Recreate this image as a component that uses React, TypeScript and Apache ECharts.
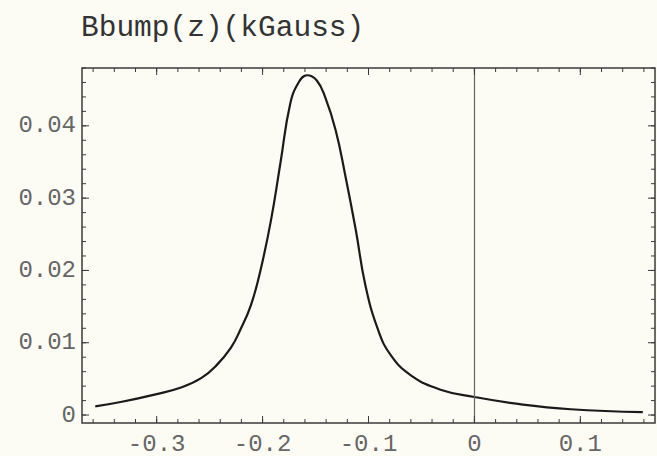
import React, { useEffect, useRef } from "react";
import * as echarts from "echarts";

// Field profile
const zValues = [-0.358, -0.334, -0.3, -0.277, -0.258, -0.244, -0.23, -0.221, -0.211, -0.202, -0.192, -0.183, -0.174, -0.166, -0.158, -0.149, -0.141, -0.131, -0.122, -0.112, -0.103, -0.091, -0.079, -0.06, -0.032, 0, 0.043, 0.091, 0.159];
const bValues = [0.0012, 0.0018, 0.0029, 0.0038, 0.0051, 0.0068, 0.0093, 0.0118, 0.0152, 0.020, 0.027, 0.035, 0.043, 0.046, 0.047, 0.0463, 0.044, 0.0394, 0.0332, 0.0256, 0.018, 0.0118, 0.0083, 0.0055, 0.0035, 0.0025, 0.0015, 0.0008, 0.0004];

const xMajorTicks = [-0.3, -0.2, -0.1, 0, 0.1];
const xTickLabels = ["-0.3", "-0.2", "-0.1", "0", "0.1"];
const yMajorTicks = [0, 0.01, 0.02, 0.03, 0.04];
const yTickLabels = ["0", "0.01", "0.02", "0.03", "0.04"];

const titleText = "Bbump(z)(kGauss)";

const X_MIN = -0.3705;
const X_MAX = 0.1705;
const Y_MIN = -0.0011;
const Y_MAX = 0.048;

const W = 657;
const H = 456;
const GRID = { left: 82, right: 2, top: 68, bottom: 33 };

function minorTicks(lo: number, hi: number, step: number) {
  const out: number[] = [];
  const n0 = Math.ceil(lo / step);
  const n1 = Math.floor(hi / step);
  for (let i = n0; i <= n1; i++) out.push(+(i * step).toFixed(6));
  return out;
}

const FONT = "'Liberation Mono', 'DejaVu Sans Mono', monospace";
const LABEL_COLOR = "#666";
const FRAME_COLOR = "#3a3a3a";
const MAJOR_LEN = 7;
const MINOR_LEN = 4;

function labelFor(values: number[], labels: string[], v: number) {
  let best = 0;
  for (let i = 1; i < values.length; i++) {
    if (Math.abs(values[i] - v) < Math.abs(values[best] - v)) best = i;
  }
  return labels[best];
}

export default function App() {
  const ref = useRef<HTMLDivElement>(null);
  useEffect(() => {
    if (!ref.current) return;
    const chart = echarts.init(ref.current, null, { renderer: "svg" });
    const xMinor = minorTicks(X_MIN, X_MAX, 0.02);
    const yMinor = minorTicks(Y_MIN, Y_MAX, 0.002);

    chart.setOption({
      animation: false,
      backgroundColor: "#fcfcf5",
      title: {
        text: titleText,
        left: 76,
        top: 8,
        textStyle: { fontFamily: FONT, fontSize: 29.5, fontWeight: "normal", color: "#333" },
      },
      grid: {
        ...GRID,
        show: true,
        borderColor: FRAME_COLOR,
        borderWidth: 1.5,
        backgroundColor: "transparent",
      },
      xAxis: {
        type: "value",
        min: X_MIN,
        max: X_MAX,
        axisLine: { show: false, onZero: false },
        splitLine: { show: false },
        axisTick: { show: false },
        axisLabel: {
          show: true,
          customValues: xMajorTicks,
          formatter: (v: number) => labelFor(xMajorTicks, xTickLabels, v),
          fontFamily: FONT,
          fontSize: 24,
          color: LABEL_COLOR,
          margin: 9,
        },
      },
      yAxis: {
        type: "value",
        min: Y_MIN,
        max: Y_MAX,
        axisLine: { show: false, onZero: false },
        splitLine: { show: false },
        axisTick: { show: false },
        axisLabel: {
          show: true,
          customValues: yMajorTicks,
          formatter: (v: number) => labelFor(yMajorTicks, yTickLabels, v),
          fontFamily: FONT,
          fontSize: 24,
          color: LABEL_COLOR,
          margin: 6,
        },
      },
      series: [
        {
          type: "line",
          data: zValues.map((z, i) => [z, bValues[i]]),
          smooth: 0.45,
          showSymbol: false,
          lineStyle: { color: "#1a1a1a", width: 2.2 },
          z: 3,
          markLine: {
            silent: true,
            symbol: "none",
            label: { show: false },
            lineStyle: { color: "#666", width: 1.2, type: "solid" },
            data: [{ xAxis: 0 }],
          },
        },
      ],
    });

    // Frame ticks placed through the axes' own scales
    const left = GRID.left;
    const right = W - GRID.right;
    const top = GRID.top;
    const bottom = H - GRID.bottom;
    const style = { stroke: FRAME_COLOR, lineWidth: 1 };
    const elems: any[] = [];
    const addX = (v: number, len: number) => {
      const px = chart.convertToPixel({ xAxisIndex: 0 }, v) as number;
      elems.push({ type: "line", silent: true, z: 10, shape: { x1: px, y1: bottom, x2: px, y2: bottom - len }, style });
      elems.push({ type: "line", silent: true, z: 10, shape: { x1: px, y1: top, x2: px, y2: top + len }, style });
    };
    const addY = (v: number, len: number) => {
      const py = chart.convertToPixel({ yAxisIndex: 0 }, v) as number;
      elems.push({ type: "line", silent: true, z: 10, shape: { x1: left, y1: py, x2: left + len, y2: py }, style });
      elems.push({ type: "line", silent: true, z: 10, shape: { x1: right, y1: py, x2: right - len, y2: py }, style });
    };
    xMinor.forEach((v) => addX(v, MINOR_LEN));
    xMajorTicks.forEach((v) => addX(v, MAJOR_LEN));
    yMinor.forEach((v) => addY(v, MINOR_LEN));
    yMajorTicks.forEach((v) => addY(v, MAJOR_LEN));

    chart.setOption({ graphic: { elements: elems } });

    return () => chart.dispose();
  }, []);
  return (
    <div
      ref={ref}
      style={{ position: "fixed", left: 0, top: 0, width: W, height: H }}
    />
  );
}
